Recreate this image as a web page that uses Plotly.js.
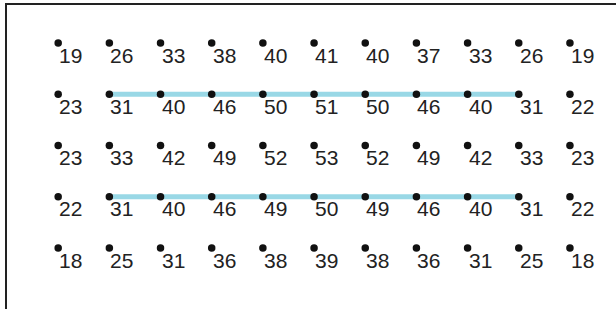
<!DOCTYPE html>
<html><head><meta charset="utf-8">
<script src="https://cdn.plot.ly/plotly-3.0.1.min.js"></script>
<style>html,body{margin:0;padding:0;background:#fff;}#c{width:616px;height:309px;}</style>
</head><body><div id="c"></div>
<script>
const columns = [0,1,2,3,4,5,6,7,8,9,10];
const rowIndex = [0,1,2,3,4];
const row1 = [19,26,33,38,40,41,40,37,33,26,19];
const row2 = [23,31,40,46,50,51,50,46,40,31,22];
const row3 = [23,33,42,49,52,53,52,49,42,33,23];
const row4 = [22,31,40,46,49,50,49,46,40,31,22];
const row5 = [18,25,31,36,38,39,38,36,31,25,18];
const rows = [row1,row2,row3,row4,row5];
const lineRows = [1,3];
const lineStartCol = 1, lineEndCol = 9;

const traces = [];
lineRows.forEach(r => {
  const xs = columns.filter(c => c>=lineStartCol && c<=lineEndCol);
  traces.push({x: xs, y: xs.map(()=>r), mode:'lines', line:{color:'#99d8e6', width:5}, hoverinfo:'skip'});
});
const annotations = [];
rows.forEach((vals, r) => {
  traces.push({
    x: columns, y: columns.map(()=>rowIndex[r]), mode:'markers',
    marker:{color:'#111', size:7.5}, cliponaxis:false
  });
  vals.forEach((v, c) => {
    annotations.push({x: columns[c], y: rowIndex[r], text: String(v), showarrow:false,
      xanchor:'left', yanchor:'middle', xshift:-1, yshift:-12,
      font:{family:'Liberation Sans, Arial, sans-serif', size:21, color:'#222'}});
  });
});
const layout = {
  width:616, height:309, showlegend:false,
  margin:{l:7,t:5,r:0,b:0},
  paper_bgcolor:'#fff', plot_bgcolor:'#fff',
  annotations: annotations,
  xaxis:{range:[-1,10.9], showgrid:false, zeroline:false, showticklabels:false, ticks:'',
         side:'top', showline:true, linecolor:'#222', linewidth:2},
  yaxis:{range:[5.19,-0.742], showgrid:false, zeroline:false, showticklabels:false, ticks:'',
         showline:true, linecolor:'#222', linewidth:2}
};
Plotly.newPlot('c', traces, layout, {staticPlot:true});
</script></body></html>
